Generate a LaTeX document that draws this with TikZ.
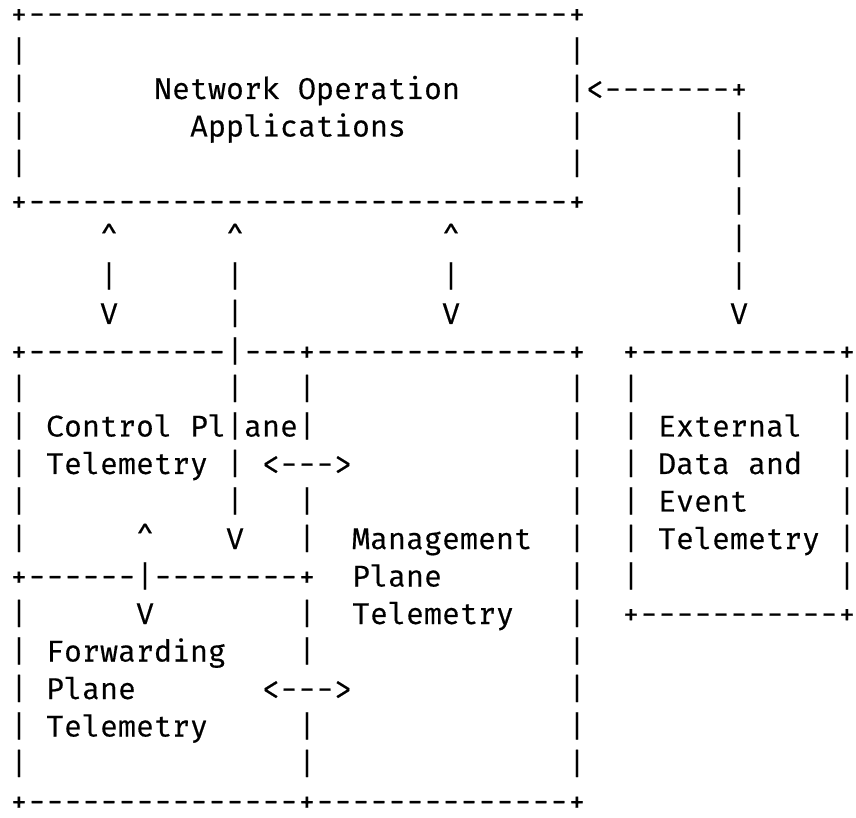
\documentclass[tikz,border=0pt]{standalone}
\usepackage{fontspec}
\setmonofont{Fira Mono}[FakeBold=0.5]
\ExplSyntaxOn
\cs_new:Npn \rpt #1#2 { \prg_replicate:nn {#1} {#2} }
\ExplSyntaxOff
\begin{document}
\begin{tikzpicture}[x=1pt,y=1pt,
  asc/.style={anchor=base west, inner sep=0pt, outer sep=0pt, text depth=0pt,
    font=\ttfamily\fontsize{30}{30}\selectfont}]
\useasboundingbox (0,0) rectangle (856,817);
\fill[white] (0,0) rectangle (856,817);
\node[asc] (r0)  at (10,793) {+\rpt{30}{-}+};
\node[asc] (r1)  at (10,755.5)   {|\rpt{30}{~}|};
\node[asc] (r2)  at (10,718) {|\rpt{7}{~}Network Operation\rpt{6}{~}|<\rpt{7}{-}+};
\node[asc] (r3)  at (10,680.5)   {|\rpt{9}{~}Applications\rpt{9}{~}|\rpt{8}{~}|};
\node[asc] (r4)  at (10,643) {|\rpt{30}{~}|\rpt{8}{~}|};
\node[asc] (r5)  at (10,605.5)   {+\rpt{30}{-}+\rpt{8}{~}|};
\node[asc] (r6)  at (10,568) {\rpt{5}{~}\textasciicircum\rpt{6}{~}\textasciicircum\rpt{11}{~}\textasciicircum\rpt{15}{~}|};
\node[asc] (r7)  at (10,530.5)   {\rpt{5}{~}|\rpt{6}{~}|\rpt{11}{~}|\rpt{15}{~}|};
\node[asc] (r8)  at (10,493) {\rpt{5}{~}V\rpt{6}{~}|\rpt{11}{~}V\rpt{15}{~}V};
\node[asc] (r9)  at (10,455.5)   {+\rpt{11}{-}|\rpt{3}{-}+\rpt{14}{-}+\rpt{2}{~}+\rpt{11}{-}+};
\node[asc] (r10) at (10,418) {|\rpt{11}{~}|\rpt{3}{~}|\rpt{14}{~}|\rpt{2}{~}|\rpt{11}{~}|};
\node[asc] (r11) at (10,380.5)   {|~Control Pl|ane|\rpt{14}{~}|~~|~External~~|};
\node[asc] (r12) at (10,343) {|~Telemetry~|~<--->\rpt{12}{~}|~~|~Data and~~|};
\node[asc] (r13) at (10,305.5)   {|\rpt{11}{~}|\rpt{3}{~}|\rpt{14}{~}|~~|~Event\rpt{5}{~}|};
\node[asc] (r14) at (10,268) {|\rpt{6}{~}\textasciicircum\rpt{4}{~}V\rpt{3}{~}|~~Management~~|~~|~Telemetry~|};
\node[asc] (r15) at (10,230.5)   {+\rpt{6}{-}|\rpt{8}{-}+~~Plane\rpt{7}{~}|~~|\rpt{11}{~}|};
\node[asc] (r16) at (10,193) {|\rpt{6}{~}V\rpt{8}{~}|~~Telemetry~~~|~~+\rpt{11}{-}+};
\node[asc] (r17) at (10,155.5)   {|~Forwarding\rpt{4}{~}|\rpt{14}{~}|};
\node[asc] (r18) at (10,118) {|~Plane\rpt{7}{~}<--->\rpt{12}{~}|};
\node[asc] (r19) at (10,80.5)    {|~Telemetry\rpt{5}{~}|\rpt{14}{~}|};
\node[asc] (r20) at (10,43)  {|\rpt{15}{~}|\rpt{14}{~}|};
\node[asc] (r21) at (10,5.5)     {+\rpt{15}{-}+\rpt{14}{-}+};
\end{tikzpicture}
\end{document}
